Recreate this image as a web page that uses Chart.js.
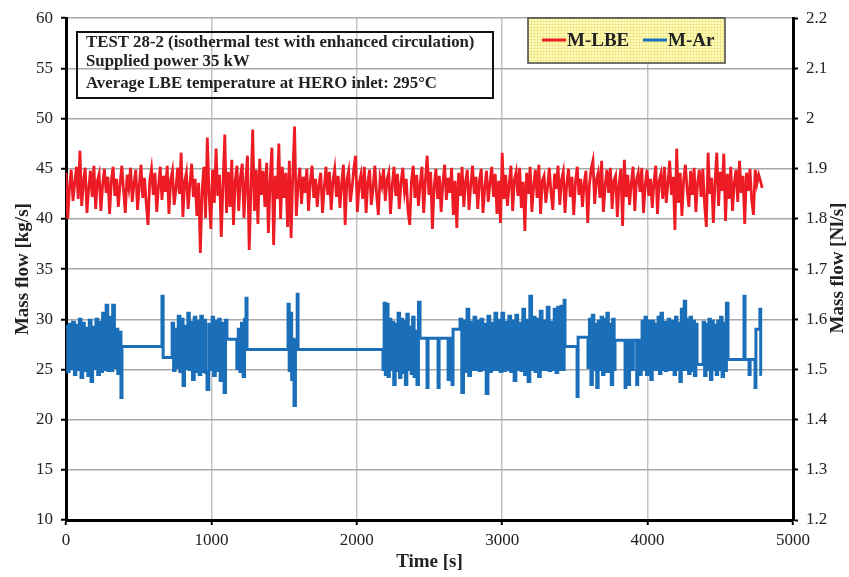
<!DOCTYPE html>
<html>
<head>
<meta charset="utf-8">
<script src="https://cdn.jsdelivr.net/npm/chart.js@4.4.0/dist/chart.umd.min.js"></script>
<style>
  html, body { margin: 0; padding: 0; background: #fff; }
  #wrap { width: 849px; height: 577px; }
</style>
</head>
<body>
<div id="wrap"><canvas id="chart" width="849" height="577"></canvas></div>
<script>
const FONT = '"Liberation Serif", "Times New Roman", serif';

const SERIES_NAMES = ["M-LBE", "M-Ar"];
const INFO_LINES = [
  "TEST 28-2 (isothermal test with enhanced circulation)",
  "Supplied power 35 kW",
  "Average LBE temperature at HERO inlet: 295°C",
];

const TIME_RANGE = [0, 5000];
const TIME_STEP = 1000;
const KG_RANGE = [10, 60];
const KG_STEP = 5;
const NL_RANGE = [1.2, 2.2];
const NL_STEP = 0.1;

// M-LBE, kg/s, one sample every 12 s from t = 0
const LBE_SAMPLE_S = 12;
const LBE_FLOW = [
  44.6, 40.0, 43.2, 44.9, 41.8, 43.6, 45.2, 42.0, 46.8, 41.3,
  43.7, 45.1, 40.6, 43.0, 44.8, 42.2, 45.3, 41.0, 43.8, 44.5,
  40.8, 43.4, 45.0, 42.6, 44.2, 40.5, 43.9, 45.2, 42.3, 44.0,
  41.2, 43.5, 45.3, 42.8, 40.6, 44.4, 43.1, 45.1, 41.7, 43.6,
  44.9, 40.9, 43.3, 45.4, 42.1, 44.1, 41.5, 39.4, 43.8, 45.0,
  42.4, 44.6, 40.7, 43.2, 45.2, 41.9, 44.3, 42.7, 45.3, 40.5,
  43.9, 44.8, 41.4, 43.0, 45.1, 42.5, 46.6, 40.2, 43.7, 44.6,
  41.0, 43.4, 45.5, 42.2, 44.0, 40.3, 43.6, 36.6, 42.8, 45.2,
  40.1, 48.1, 42.5, 39.0, 44.9, 41.6, 47.0, 42.3, 44.4, 38.2,
  43.5, 48.4, 40.6, 44.7, 41.2, 45.9, 39.4, 43.8, 45.3, 40.8,
  44.2, 45.5, 40.1, 43.6, 46.3, 36.9, 42.9, 48.9, 40.8, 44.9,
  39.5, 46.0, 42.4, 44.8, 41.2, 45.6, 38.6, 43.9, 47.1, 37.4,
  44.3, 42.0, 47.5, 40.0, 45.2, 42.1, 44.6, 39.2, 45.8, 38.1,
  44.5, 49.2, 40.3, 43.4, 45.1, 41.5, 44.2, 42.6, 45.0, 40.8,
  43.7, 45.3, 42.1, 44.0, 41.2, 43.5, 44.6, 40.6, 43.1, 45.2,
  42.4, 44.7, 40.9, 43.8, 45.0, 42.2, 44.3, 41.1, 43.6, 45.4,
  39.4, 43.9, 44.8, 41.7, 43.2, 45.1, 46.3, 40.7, 43.5, 44.4,
  42.0, 45.2, 40.6, 43.7, 44.9, 41.4, 43.1, 45.3, 42.5, 40.4,
  44.1, 43.3, 45.0, 41.8, 43.9, 44.6, 40.5, 43.4, 45.2, 42.3,
  44.5, 41.0, 43.6, 45.1, 42.7, 44.0, 40.8, 39.4, 43.8, 45.3,
  42.1, 44.4, 41.3, 43.5, 45.2, 40.6, 43.9, 46.3, 42.4, 44.7,
  39.0, 43.2, 45.0, 42.0, 44.3, 40.7, 43.6, 45.4, 41.9, 44.1,
  42.6, 45.1, 40.4, 43.8, 39.1, 44.6, 42.3, 45.2, 41.2, 43.7,
  44.9, 40.9, 43.4, 45.3, 42.5, 44.2, 41.0, 43.9, 45.0, 40.6,
  43.1, 44.8, 41.7, 43.6, 45.2, 42.2, 44.5, 40.5, 43.8, 39.6,
  46.6, 42.0, 44.4, 41.3, 43.5, 45.3, 40.8, 43.9, 44.7, 42.3,
  45.1, 41.1, 43.7, 38.8, 44.6, 42.5, 45.2, 40.7, 43.3, 44.9,
  42.1, 45.4, 40.5, 43.8, 44.3, 41.6, 43.2, 45.1, 42.6, 40.9,
  44.5, 43.0, 45.3, 41.4, 43.9, 44.7, 40.6, 43.5, 45.0, 42.2,
  44.2, 40.4, 43.7, 45.2, 42.4, 44.0, 41.2, 43.6, 44.8, 39.6,
  43.4, 45.0, 45.8, 41.5, 43.9, 44.6, 42.1, 45.8, 40.7, 43.3,
  44.9, 42.6, 45.1, 41.0, 43.8, 44.3, 40.2, 43.5, 45.0, 39.3,
  45.9, 42.2, 44.4, 41.4, 43.6, 45.2, 40.8, 43.9, 44.6, 42.7,
  45.1, 40.6, 43.4, 44.9, 42.3, 44.0, 41.1, 43.7, 45.3, 40.5,
  43.8, 44.5, 42.0, 45.2, 41.6, 43.5, 45.8, 42.4, 44.2, 38.9,
  47.0, 41.6, 44.6, 40.3, 43.9, 45.4, 42.9, 41.2, 44.8, 42.4,
  45.1, 40.7, 43.6, 44.9, 42.2, 45.0, 41.4, 39.2, 46.6, 42.5,
  44.1, 39.6, 43.8, 46.6, 41.3, 44.7, 42.8, 46.5, 39.8, 44.5,
  42.0, 45.2, 40.8, 43.6, 44.9, 41.7, 45.8, 42.6, 44.3, 39.5,
  44.6, 42.8, 45.0, 41.9, 40.4, 44.9, 43.5, 44.4, 43.8, 43.1,
];

// M-Ar, Nl/s, held until the next time stamp
const AR_TIME = [
  0, 12, 22, 35, 45, 58, 68, 80, 92, 103,
  115, 126, 138, 150, 160, 172, 183, 195, 206, 218,
  230, 241, 252, 265, 276, 287, 298, 310, 321, 333,
  344, 356, 367, 378, 385,
  660, 668,
  730, 740, 750, 762, 772, 783, 795, 805, 815, 826,
  838, 848, 860, 870, 882, 893, 905, 915, 927, 938,
  950, 960, 970, 982, 993, 1005, 1015, 1027, 1038, 1050,
  1060, 1072, 1087, 1097, 1107, 1175, 1185, 1196, 1207, 1218,
  1228, 1238, 1245,
  1527, 1535, 1543, 1552, 1560, 1568, 1578, 1590, 1596,
  2180, 2188, 2196, 2205, 2215, 2224, 2234, 2244, 2254, 2264,
  2274, 2284, 2294, 2304, 2314, 2324, 2334, 2344, 2354, 2364,
  2374, 2384, 2394, 2404, 2414, 2424, 2435,
  2483, 2490, 2559, 2566, 2628, 2635, 2655, 2662,
  2710, 2722, 2734, 2746, 2758, 2770, 2782, 2794, 2806, 2818,
  2830, 2842, 2854, 2866, 2878, 2890, 2902, 2914, 2926, 2938,
  2950, 2962, 2974, 2986, 2998, 3010, 3022, 3034, 3046, 3058,
  3070, 3082, 3094, 3106, 3118, 3130, 3142, 3154, 3166, 3178,
  3190, 3202, 3214, 3226, 3238, 3250, 3262, 3274, 3286, 3298,
  3310, 3322, 3334, 3346, 3358, 3370, 3382, 3394, 3406, 3418,
  3426, 3432,
  3515, 3522,
  3590, 3600, 3610, 3620, 3630, 3640, 3650, 3660, 3670, 3680,
  3690, 3700, 3710, 3720, 3730, 3740, 3750, 3760, 3770, 3776,
  3845, 3850, 3870, 3876, 3895, 3902, 3925, 3932, 3950, 3956,
  3962, 3972, 3982, 3992, 4002, 4012, 4022, 4032, 4042, 4052,
  4062, 4072, 4082, 4092, 4102, 4112, 4122, 4132, 4142, 4152,
  4162, 4172, 4182, 4192, 4202, 4212, 4222, 4232, 4242, 4252,
  4262, 4272, 4282, 4292, 4302, 4312, 4322, 4332, 4340,
  4382, 4392, 4402, 4412, 4422, 4432, 4442, 4452, 4462, 4472,
  4482, 4492, 4502, 4512, 4522, 4532, 4542, 4553,
  4663, 4670, 4698, 4705, 4739, 4745, 4772, 4778, 4785,
];
const AR_FLOW = [
  1.586, 1.496, 1.590, 1.502, 1.594, 1.490, 1.588, 1.500, 1.600, 1.484,
  1.592, 1.498, 1.582, 1.488, 1.598, 1.476, 1.584, 1.502, 1.600, 1.490,
  1.594, 1.496, 1.612, 1.500, 1.628, 1.498, 1.604, 1.498, 1.628, 1.504,
  1.580, 1.492, 1.574, 1.444, 1.546,
  1.646, 1.524,
  1.592, 1.498, 1.580, 1.504, 1.606, 1.496, 1.600, 1.468, 1.586, 1.502,
  1.612, 1.500, 1.594, 1.480, 1.604, 1.496, 1.596, 1.490, 1.606, 1.496,
  1.598, 1.494, 1.460, 1.590, 1.500, 1.604, 1.488, 1.596, 1.498, 1.600,
  1.478, 1.592, 1.454, 1.598, 1.560, 1.502, 1.580, 1.496, 1.592, 1.486,
  1.600, 1.642, 1.540,
  1.630, 1.498, 1.612, 1.480, 1.560, 1.428, 1.556, 1.650, 1.540,
  1.500, 1.632, 1.490, 1.630, 1.486, 1.600, 1.500, 1.594, 1.470, 1.590,
  1.498, 1.612, 1.484, 1.600, 1.494, 1.596, 1.470, 1.610, 1.500, 1.584,
  1.492, 1.604, 1.486, 1.576, 1.470, 1.634, 1.562,
  1.464, 1.562, 1.464, 1.562, 1.480, 1.562, 1.470, 1.580,
  1.600, 1.454, 1.596, 1.496, 1.620, 1.488, 1.594, 1.500, 1.604, 1.500,
  1.596, 1.498, 1.600, 1.500, 1.590, 1.452, 1.606, 1.496, 1.592, 1.500,
  1.612, 1.500, 1.598, 1.496, 1.612, 1.498, 1.594, 1.500, 1.606, 1.496,
  1.596, 1.478, 1.608, 1.500, 1.592, 1.498, 1.620, 1.490, 1.598, 1.476,
  1.646, 1.500, 1.604, 1.496, 1.600, 1.486, 1.616, 1.500, 1.596, 1.500,
  1.624, 1.498, 1.594, 1.500, 1.620, 1.494, 1.624, 1.500, 1.626, 1.500,
  1.638, 1.546,
  1.446, 1.564,
  1.504, 1.600, 1.470, 1.608, 1.500, 1.590, 1.464, 1.596, 1.500, 1.604,
  1.490, 1.600, 1.496, 1.612, 1.496, 1.590, 1.470, 1.600, 1.500, 1.558,
  1.464, 1.558, 1.470, 1.558, 1.500, 1.558, 1.470, 1.558, 1.490, 1.558,
  1.596, 1.500, 1.604, 1.490, 1.596, 1.500, 1.480, 1.596, 1.500, 1.590,
  1.500, 1.604, 1.492, 1.612, 1.500, 1.594, 1.498, 1.592, 1.600, 1.500,
  1.500, 1.596, 1.490, 1.604, 1.500, 1.592, 1.476, 1.620, 1.500, 1.636,
  1.500, 1.600, 1.492, 1.604, 1.498, 1.596, 1.488, 1.590, 1.510,
  1.594, 1.488, 1.590, 1.500, 1.600, 1.480, 1.596, 1.500, 1.588, 1.490,
  1.596, 1.500, 1.604, 1.486, 1.592, 1.498, 1.632, 1.520,
  1.646, 1.520, 1.490, 1.520, 1.464, 1.580, 1.620, 1.490, 1.490,
];

const COLORS = { lbe: "#ed1c24", ar: "#1b6fb9", text: "#222", gridH: "#a9a9a9", gridV: "#c4c4c4" };

function legendPattern(ctx) {
  const tile = document.createElement("canvas");
  tile.width = 3;
  tile.height = 3;
  const t = tile.getContext("2d");
  t.fillStyle = "#fffcc4";
  t.fillRect(0, 0, 3, 3);
  t.fillStyle = "#f1e98a";
  t.fillRect(0, 0, 3, 1);
  t.fillRect(0, 0, 1, 3);
  return ctx.createPattern(tile, "repeat");
}

// text box, legend and the right-hand axis title
const overlay = {
  id: "overlay",
  afterDraw(chart) {
    const ctx = chart.ctx;
    ctx.save();

    ctx.strokeStyle = "#111";
    ctx.lineWidth = 2;
    ctx.strokeRect(77, 32, 416, 66);
    ctx.fillStyle = COLORS.text;
    ctx.font = "bold 16.8px " + FONT;
    ctx.textBaseline = "alphabetic";
    const baselines = [47, 66, 88];
    INFO_LINES.forEach((line, i) => ctx.fillText(line, 86, baselines[i]));

    ctx.fillStyle = legendPattern(ctx);
    ctx.fillRect(528, 18, 197, 45);
    ctx.strokeStyle = "#444";
    ctx.lineWidth = 1.5;
    ctx.strokeRect(528, 18, 197, 45);

    const items = [
      { name: SERIES_NAMES[0], color: COLORS.lbe, x: 542 },
      { name: SERIES_NAMES[1], color: COLORS.ar, x: 643 },
    ];
    ctx.font = "bold 19px " + FONT;
    ctx.textBaseline = "middle";
    for (const it of items) {
      ctx.strokeStyle = it.color;
      ctx.lineWidth = 3;
      ctx.beginPath();
      ctx.moveTo(it.x, 40);
      ctx.lineTo(it.x + 24, 40);
      ctx.stroke();
      ctx.fillStyle = COLORS.text;
      ctx.fillText(it.name, it.x + 25, 41);
    }

    ctx.translate(838, 268);
    ctx.rotate(-Math.PI / 2);
    ctx.textAlign = "center";
    ctx.textBaseline = "middle";
    ctx.font = "bold 19px " + FONT;
    ctx.fillStyle = COLORS.text;
    ctx.fillText("Mass flow [Nl/s]", 0, 0);

    ctx.restore();
  },
};

const tickFont = { family: FONT, size: 17 };
const titleFont = { family: FONT, size: 19, weight: "bold" };

new Chart(document.getElementById("chart"), {
  type: "line",
  data: {
    datasets: [
      {
        label: SERIES_NAMES[0],
        data: LBE_FLOW.map((v, i) => ({ x: i * LBE_SAMPLE_S, y: v })),
        yAxisID: "y",
        borderColor: COLORS.lbe,
        borderWidth: 2.8,
        pointRadius: 0,
        tension: 0,
      },
      {
        label: SERIES_NAMES[1],
        data: AR_TIME.map((t, i) => ({ x: t, y: AR_FLOW[i] })),
        yAxisID: "y1",
        borderColor: COLORS.ar,
        borderWidth: 3,
        pointRadius: 0,
        stepped: true,
      },
    ],
  },
  options: {
    responsive: false,
    animation: false,
    devicePixelRatio: 1,
    layout: { padding: { top: 15, left: 0, right: 0, bottom: 0 } },
    plugins: { legend: { display: false }, tooltip: { enabled: false } },
    scales: {
      x: {
        type: "linear",
        min: TIME_RANGE[0],
        max: TIME_RANGE[1],
        ticks: { stepSize: TIME_STEP, font: tickFont, color: COLORS.text, padding: 5, maxRotation: 0, callback: (v) => String(v) },
        grid: { color: COLORS.gridV, lineWidth: 1.5, tickColor: "#000", tickLength: 5, tickWidth: 2 },
        border: { color: "#000", width: 3 },
        title: { display: true, text: "Time [s]", font: titleFont, color: COLORS.text, padding: { top: 0, bottom: 4 } },
        afterFit: (s) => { s.height = 57; },
      },
      y: {
        position: "left",
        min: KG_RANGE[0],
        max: KG_RANGE[1],
        ticks: { stepSize: KG_STEP, font: tickFont, color: COLORS.text, padding: 8 },
        grid: { color: COLORS.gridH, lineWidth: 1.5, tickColor: "#000", tickLength: 5, tickWidth: 2 },
        border: { color: "#000", width: 3 },
        title: { display: true, text: "Mass flow [kg/s]", font: titleFont, color: COLORS.text, padding: { top: 12, bottom: 0 } },
        afterFit: (s) => { s.width = 66; },
      },
      y1: {
        position: "right",
        min: NL_RANGE[0],
        max: NL_RANGE[1],
        ticks: {
          stepSize: NL_STEP,
          font: tickFont,
          color: COLORS.text,
          padding: 8,
          callback: (v) => String(Number(v.toFixed(1))),
        },
        grid: { drawOnChartArea: false, tickColor: "#000", tickLength: 5, tickWidth: 2 },
        border: { color: "#000", width: 3 },
        afterFit: (s) => { s.width = 56; },
      },
    },
  },
  plugins: [overlay],
});
</script>
</body>
</html>
